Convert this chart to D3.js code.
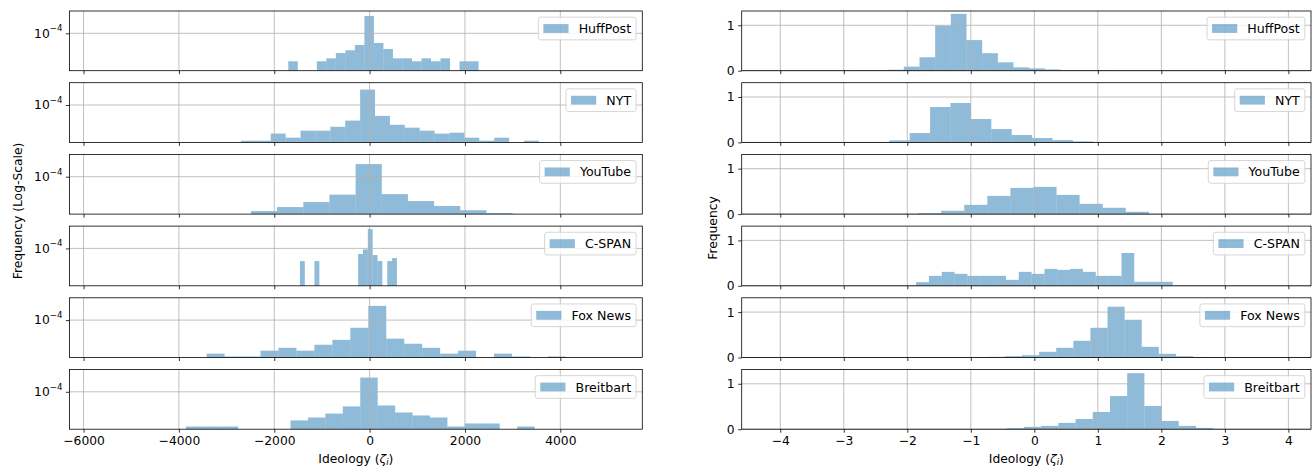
<!DOCTYPE html>
<html>
<head>
<meta charset="utf-8">
<script src="https://cdn.jsdelivr.net/npm/d3@7"></script>
<style>
  body { margin: 0; background: #fff; }
  text { font-family: "DejaVu Sans", sans-serif; }
</style>
</head>
<body>
<script>
// outlets, one row each
var outlets = ['HuffPost', 'NYT', 'YouTube', 'C-SPAN', 'Fox News', 'Breitbart'];

// left column: raw scores, log-scaled frequency. [first edge, last edge] of the bins per outlet
var rawRange = [[-1706, 2286], [-2699, 3552], [-2489, 3000], [-1461, 573], [-3419, 4118], [-3853, 3461]];
var rawHuffPost = [3.4e-7, 0, 0, 3.4e-7, 6.2e-7, 1.8e-6, 3.2e-6, 9.3e-6, 3.4e-3, 1.4e-5, 4.1e-6, 6.2e-7, 6.2e-7, 3.4e-7, 6.2e-7, 3.4e-7, 6.2e-7, 0, 3.4e-7, 3.4e-7];
var rawNYT = [7.1e-8, 7.1e-8, 3.0e-7, 1.3e-7, 5.4e-7, 5.4e-7, 1.2e-6, 4.2e-6, 2.3e-3, 1.1e-5, 1.8e-6, 1.0e-6, 5.4e-7, 3.0e-7, 3.6e-7, 1.3e-7, 7.1e-8, 1.3e-7, 0, 7.1e-8];
var rawYouTube = [9.3e-8, 2.1e-7, 5.8e-7, 2.6e-6, 1.3e-3, 2.9e-6, 7.1e-7, 2.6e-7, 1.1e-7, 6.2e-8];
var rawCSPAN = [7.6e-6, 0, 0, 7.6e-6, 0, 0, 0, 0, 0, 0, 0, 0, 3.2e-5, 8.2e-5, 5.1e-3, 2.6e-5, 7.6e-6, 0, 7.6e-6, 1.4e-5];
var rawFox = [1.1e-7, 6.2e-8, 6.2e-8, 2.0e-7, 3.6e-7, 2.0e-7, 6.7e-7, 1.8e-6, 2.1e-5, 1.8e-3, 2.3e-6, 8.2e-7, 3.6e-7, 1.1e-7, 2.0e-7, 0, 1.1e-7, 6.2e-8, 0, 6.2e-8];
var rawBreitbart = [8.7e-8, 8.7e-8, 8.7e-8, 0, 0, 0, 3.0e-7, 5.4e-7, 1.2e-6, 5.1e-6, 1.8e-3, 6.2e-6, 1.5e-6, 8.2e-7, 5.4e-7, 8.7e-8, 1.6e-7, 1.6e-7, 0, 8.7e-8];

// right column: ideology zeta, linear frequency
var zetaRange = [[-3.535, 1.40], [-2.284, 0.930], [-1.83, 1.803], [-1.861, 2.180], [-2.079, 3.307], [-0.434, 2.816]];
var zetaHuffPost = [0.002, 0.002, 0.003, 0.004, 0.006, 0.022, 0.089, 0.296, 0.993, 1.252, 0.674, 0.385, 0.185, 0.074, 0.052, 0.030, 0.008, 0.006, 0.004, 0.003];
var zetaNYT = [0.044, 0.206, 0.779, 0.868, 0.515, 0.294, 0.162, 0.096, 0.051, 0.022];
var zetaYouTube = [0.022, 0.073, 0.204, 0.401, 0.577, 0.599, 0.423, 0.226, 0.139, 0.051];
var zetaCSPAN = [0.080, 0.219, 0.307, 0.263, 0.219, 0.219, 0.219, 0.131, 0.307, 0.263, 0.372, 0.350, 0.372, 0.307, 0.219, 0.219, 0.723, 0.088, 0.088, 0.088];
var zetaFox = [0.004, 0.004, 0.005, 0.007, 0.010, 0.015, 0.029, 0.051, 0.125, 0.213, 0.368, 0.654, 1.118, 0.831, 0.235, 0.081, 0.029, 0.012, 0.006, 0.004];
var zetaBreitbart = [0.022, 0.051, 0.073, 0.139, 0.226, 0.380, 0.730, 1.234, 0.511, 0.182, 0.073, 0.029];

// ticks
var rawTicks = [-6000, -4000, -2000, 0, 2000, 4000];
var zetaTicks = [-4, -3, -2, -1, 0, 1, 2, 3, 4];
var zetaYTicks = [0, 1];

var rawValues = [rawHuffPost, rawNYT, rawYouTube, rawCSPAN, rawFox, rawBreitbart];
var zetaValues = [zetaHuffPost, zetaNYT, zetaYouTube, zetaCSPAN, zetaFox, zetaBreitbart];

var W = 1312, H = 467;
var top0 = 11, pitch = 71.7, ph = 59.7;
var fs = 12.3, lfs = 12.6;
var barColor = '#1f77b4', gridColor = '#b0b0b0';

var svg = d3.select('body').append('svg')
    .attr('width', W)
    .attr('height', H);

var xRaw = d3.scaleLinear().domain([-6297, 5720]).range([69.4, 642.3]);
var xZeta = d3.scaleLinear().domain([-4.607, 4.356]).range([741.7, 1311]);

var yLog = d3.scaleLog()
    .domain([Math.pow(10, -7.30), Math.pow(10, -2.032)])
    .range([ph, 0]);
var yLin = d3.scaleLinear().domain([0, 1.3146]).range([ph, 0]);

function minus(s) { return String(s).replace('-', '\u2212'); }

function drawPanel(i, x, y, values, range, xticks, yticks, isLog) {
    var g = svg.append('g').attr('transform', 'translate(0,' + (top0 + i * pitch) + ')');
    var n = values.length;
    var w = (range[1] - range[0]) / n;
    var bins = values.map(function (v, j) {
        return {x0: range[0] + j * w, x1: range[0] + (j + 1) * w, v: v};
    }).filter(function (d) { return d.v > 0; });

    g.append('g').selectAll('rect')
        .data(bins)
        .enter().append('rect')
        .attr('x', function (d) { return x(d.x0); })
        .attr('width', function (d) { return x(d.x1) - x(d.x0); })
        .attr('y', function (d) { return y(d.v); })
        .attr('height', function (d) { return ph - y(d.v); })
        .attr('fill', barColor)
        .attr('fill-opacity', 0.5);

    var x0 = x.range()[0], x1 = x.range()[1];

    // grid
    var grid = g.append('g').attr('stroke', gridColor).attr('stroke-width', 0.8);
    xticks.forEach(function (t) {
        grid.append('line').attr('x1', x(t)).attr('x2', x(t)).attr('y1', 0).attr('y2', ph);
    });
    yticks.forEach(function (t) {
        grid.append('line').attr('x1', x0).attr('x2', x1).attr('y1', y(t)).attr('y2', y(t));
    });

    // x ticks (labels only on the last row)
    var xAxis = d3.axisBottom(x)
        .tickValues(xticks)
        .tickSize(3.5)
        .tickPadding(3.5)
        .tickFormat(i === outlets.length - 1 ? minus : function () { return ''; });
    var ax = g.append('g').attr('transform', 'translate(0,' + ph + ')').call(xAxis);
    ax.select('.domain').remove();
    ax.selectAll('line').attr('stroke', '#000').attr('stroke-width', 0.8);
    ax.selectAll('text').attr('font-size', fs).attr('fill', '#000');

    // y ticks
    var yAxis = d3.axisLeft(y)
        .tickValues(yticks)
        .tickSize(3.5)
        .tickPadding(3.5)
        .tickFormat(isLog ? function () { return ''; } : function (d) { return d; });
    var ay = g.append('g').attr('transform', 'translate(' + x0 + ',0)').call(yAxis);
    ay.select('.domain').remove();
    ay.selectAll('line').attr('stroke', '#000').attr('stroke-width', 0.8);
    ay.selectAll('text').attr('font-size', fs).attr('fill', '#000');
    if (isLog) {
        var lab = g.append('text')
            .attr('x', x0 - 7)
            .attr('y', y(1e-4))
            .attr('dy', '0.35em')
            .attr('text-anchor', 'end')
            .attr('font-size', fs);
        lab.append('tspan').text('10');
        lab.append('tspan').attr('font-size', fs * 0.7).attr('dy', '-0.75em').text('\u22124');
    }

    // frame
    g.append('rect')
        .attr('x', x0).attr('y', 0)
        .attr('width', x1 - x0).attr('height', ph)
        .attr('fill', 'none')
        .attr('stroke', '#000')
        .attr('stroke-width', 0.8);

    // legend
    var lg = g.append('g');
    var box = lg.append('rect')
        .attr('rx', 2.5).attr('ry', 2.5)
        .attr('fill', '#fff').attr('fill-opacity', 0.8)
        .attr('stroke', '#cccccc').attr('stroke-width', 0.8);
    var patch = lg.append('rect')
        .attr('fill', barColor).attr('fill-opacity', 0.5);
    var txt = lg.append('text')
        .attr('font-size', lfs)
        .attr('fill', '#000')
        .text(outlets[i]);
    var tw = txt.node().getComputedTextLength();
    var pad = 0.4 * lfs, hl = 2 * lfs, tp = 0.8 * lfs;
    var bw = pad + hl + tp + tw + pad, bh = 22.7;
    var bx = x1 - 0.5 * fs - bw, by = 0.5 * fs;
    box.attr('x', bx).attr('y', by).attr('width', bw).attr('height', bh);
    patch.attr('x', bx + pad).attr('y', by + bh / 2 - 0.35 * lfs)
        .attr('width', hl).attr('height', 0.7 * lfs);
    txt.attr('x', bx + pad + hl + tp).attr('y', by + bh / 2).attr('dy', '0.36em');
}

outlets.forEach(function (name, i) {
    drawPanel(i, xRaw, yLog, rawValues[i], rawRange[i], rawTicks, [1e-4], true);
    drawPanel(i, xZeta, yLin, zetaValues[i], zetaRange[i], zetaTicks, zetaYTicks, false);
});

// axis titles
function xTitle(cx) {
    var t = svg.append('text')
        .attr('x', cx).attr('y', 462.5)
        .attr('text-anchor', 'middle')
        .attr('font-size', fs);
    t.append('tspan').text('Ideology (');
    t.append('tspan').attr('font-style', 'italic').text('\u03b6');
    t.append('tspan').attr('font-style', 'italic').attr('font-size', fs * 0.7).attr('dy', 2.5).text('i');
    t.append('tspan').attr('dy', -2.5).text(')');
}
xTitle((xRaw.range()[0] + xRaw.range()[1]) / 2);
xTitle((xZeta.range()[0] + xZeta.range()[1]) / 2);

svg.append('text')
    .attr('transform', 'translate(18,211) rotate(-90)')
    .attr('text-anchor', 'middle')
    .attr('dy', '0.35em')
    .attr('font-size', fs)
    .text('Frequency (Log-Scale)');

svg.append('text')
    .attr('transform', 'translate(713,228) rotate(-90)')
    .attr('text-anchor', 'middle')
    .attr('dy', '0.35em')
    .attr('font-size', fs)
    .text('Frequency');
</script>
</body>
</html>
